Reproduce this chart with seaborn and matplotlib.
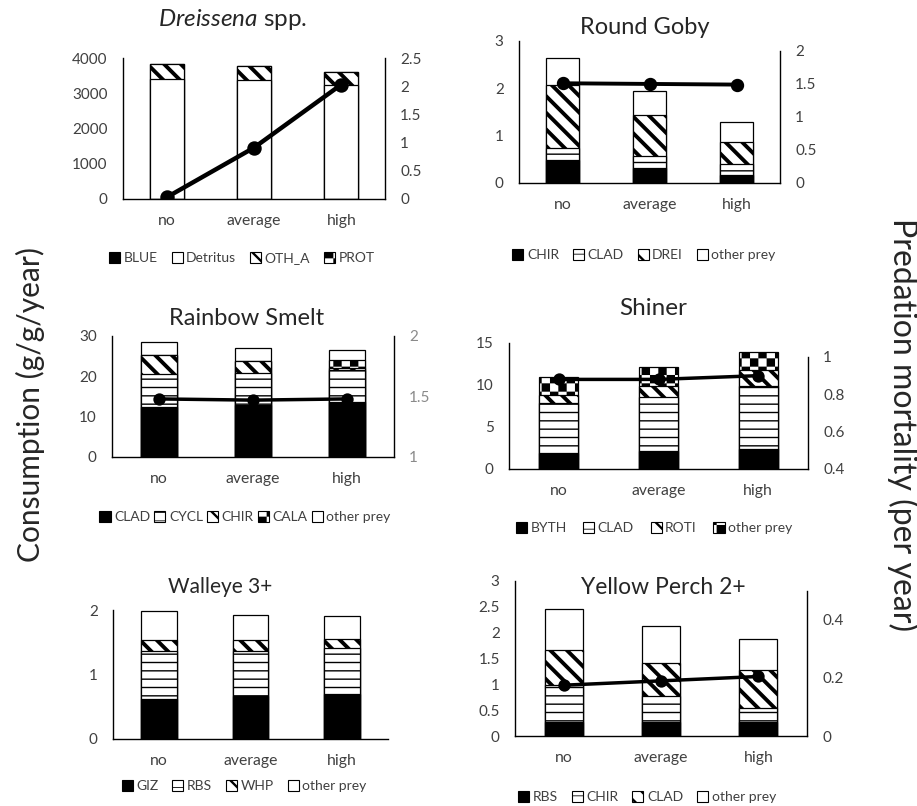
import numpy as np
import pandas as pd
import matplotlib
matplotlib.use('Agg')
import matplotlib.pyplot as plt
import seaborn as sns
from matplotlib import hatch as mhatch
from matplotlib.path import Path
from matplotlib.patches import Patch
from matplotlib.ticker import FuncFormatter

scenarios = ['no', 'average', 'high']

# Dreissena spp.
dre_prey = ['BLUE', 'Detritus', 'OTH_A', 'PROT']
dre_blue = [5, 5, 5]
dre_detritus = [3405, 3380, 3225]
dre_otha = [415, 385, 360]
dre_prot = [3, 3, 3]
dre_mort = [0.03, 0.91, 2.03]

# Round Goby
rg_prey = ['CHIR', 'CLAD', 'DREI', 'other prey']
rg_chir = [0.48, 0.32, 0.16]
rg_clad = [0.26, 0.24, 0.24]
rg_drei = [1.32, 0.87, 0.47]
rg_other = [0.59, 0.52, 0.42]
rg_mort = [1.51, 1.50, 1.49]

# Rainbow Smelt
rs_prey = ['CLAD', 'CYCL', 'CHIR', 'CALA', 'other prey']
rs_clad = [12.4, 12.8, 13.6]
rs_cycl = [8.1, 8.0, 8.0]
rs_chir = [4.7, 3.0, 0.4]
rs_cala = [0.0, 0.0, 2.0]
rs_other = [3.3, 3.3, 2.6]
rs_mort = [1.48, 1.47, 1.48]

# Shiner
sh_prey = ['BYTH', 'CLAD', 'ROTI', 'other prey']
sh_byth = [1.9, 2.1, 2.4]
sh_clad = [5.9, 6.5, 7.5]
sh_roti = [1.05, 1.3, 1.9]
sh_other = [2.15, 2.2, 2.1]
sh_mort = [0.88, 0.88, 0.90]

# Walleye 3+
wa_prey = ['GIZ', 'RBS', 'WHP', 'other prey']
wa_giz = [0.62, 0.66, 0.70]
wa_rbs = [0.74, 0.71, 0.71]
wa_whp = [0.18, 0.17, 0.14]
wa_other = [0.44, 0.39, 0.36]

# Yellow Perch 2+
yp_prey = ['RBS', 'CHIR', 'CLAD', 'other prey']
yp_rbs = [0.27, 0.27, 0.27]
yp_chir = [0.71, 0.50, 0.28]
yp_clad = [0.68, 0.65, 0.73]
yp_other = [0.80, 0.70, 0.60]
yp_mort = [0.175, 0.19, 0.205]


# matplotlib has no checkerboard hatch, so '*' is re-used for one
class CheckerHatch(mhatch.HatchPatternBase):
    filled = True

    def __init__(self, hatch, density):
        self.num_cells = int(hatch.count('*') * density)
        self.num_vertices = ((self.num_cells ** 2 + 1) // 2) * 5

    def set_vertices_and_codes(self, vertices, codes):
        n = self.num_cells
        s = 1.0 / n
        k = 0
        for i in range(n):
            for j in range(n):
                if (i + j) % 2 == 0:
                    x0, y0 = j * s, i * s
                    vertices[k:k + 5] = [(x0, y0), (x0 + s, y0), (x0 + s, y0 + s),
                                         (x0, y0 + s), (x0, y0)]
                    codes[k:k + 5] = [Path.MOVETO, Path.LINETO, Path.LINETO,
                                      Path.LINETO, Path.CLOSEPOLY]
                    k += 5


mhatch._hatch_types = [CheckerHatch if t is mhatch.Stars else t for t in mhatch._hatch_types]

sns.set_style('white')
plt.rcParams['font.family'] = ['Lato', 'DejaVu Sans']
plt.rcParams['mathtext.fontset'] = 'custom'
plt.rcParams['mathtext.it'] = 'Lato:italic'
plt.rcParams['mathtext.rm'] = 'Lato'
plt.rcParams['hatch.linewidth'] = 0.9

# face colour, hatch, hatch line width
STYLES = {
    'solid': ('black', None, 0.9),
    'white': ('white', None, 0.9),
    'diag': ('white', '\\\\', 2.8),
    'hline': ('white', '--', 1.0),
    'check': ('white', '**', 0.05),
}

TXT = '#404040'
W, H = 917, 806
fig = plt.figure(figsize=(W / 100, H / 100), dpi=100)


def px_rect(l, r, t, b):
    return [l / W, 1 - b / H, (r - l) / W, (b - t) / H]


def set_hlw(p, lw):
    if hasattr(p, 'set_hatch_linewidth'):
        p.set_hatch_linewidth(lw)


def fmt(v, pos):
    return f'{v:g}'


def panel(rect, title, tpos, tsize, layers, prey, styles, yticks, leg_pos, leg_sp,
          mort=None, rlim=None, rticks=None, rbounds=None, rcolor=TXT, lw=2.5, ms=7):
    ax = fig.add_axes(px_rect(*rect))
    tops = np.cumsum(np.array(layers, dtype=float), axis=0)
    for k in range(len(layers) - 1, -1, -1):
        face, hatch, hlw = STYLES[styles[k]]
        sns.barplot(x=scenarios, y=tops[k], ax=ax, color=face, hatch=hatch,
                    edgecolor='black', linewidth=0.9, width=0.39, saturation=1,
                    errorbar=None)
        for p in ax.containers[-1]:
            set_hlw(p, hlw)
    ax.set_xlim(-0.5, 2.5)
    ax.set_ylim(yticks[0], yticks[-1])
    ax.set_yticks(yticks)
    ax.yaxis.set_major_formatter(FuncFormatter(fmt))
    ax.tick_params(length=0, labelsize=11, colors=TXT)
    ax.tick_params(axis='y', pad=11)
    ax.tick_params(axis='x', pad=11, labelsize=11.3)
    ax.set_xlabel('')
    ax.set_ylabel('')
    for s in ['top', 'right']:
        ax.spines[s].set_visible(False)
    for s in ['left', 'bottom']:
        ax.spines[s].set_color('black')
        ax.spines[s].set_linewidth(1.0)

    if mort is not None:
        ax2 = ax.twinx()
        sns.pointplot(x=scenarios, y=mort, ax=ax2, color='black', errorbar=None,
                      markersize=ms, linewidth=lw)
        ax2.set_xlim(-0.5, 2.5)
        ax2.set_ylim(*rlim)
        ax2.set_yticks(rticks)
        ax2.yaxis.set_major_formatter(FuncFormatter(fmt))
        ax2.tick_params(length=0, labelsize=11, colors=rcolor, pad=11)
        ax2.set_ylabel('')
        for s in ['top', 'left', 'bottom']:
            ax2.spines[s].set_visible(False)
        ax2.spines['right'].set_color('black')
        ax2.spines['right'].set_linewidth(1.0)
        if rbounds is not None:
            ax2.spines['right'].set_bounds(*rbounds)

    fig.text(tpos[0] / W, 1 - tpos[1] / H, title, ha='center', va='center',
             fontsize=tsize, color='#262626')

    handles = []
    for name, st in zip(prey, styles):
        face, hatch, hlw = STYLES[st]
        handles.append(Patch(facecolor=face, edgecolor='black', hatch=hatch,
                             linewidth=0.8, label=name))
    leg = ax.legend(handles=handles, loc='center', ncol=len(prey),
                    bbox_to_anchor=(leg_pos[0] / W, 1 - leg_pos[1] / H),
                    bbox_transform=fig.transFigure, frameon=False, fontsize=10,
                    handlelength=0.8, handleheight=0.8, handletextpad=0.25,
                    columnspacing=leg_sp, labelcolor=TXT)
    for p, st in zip(leg.get_patches(), styles):
        set_hlw(p, STYLES[st][2] * 0.6)
    return ax


panel((123, 385, 58, 199), r'$\mathit{Dreissena}$ spp.', (233, 20), 17.5,
      [dre_blue, dre_detritus, dre_otha, dre_prot], dre_prey,
      ['solid', 'white', 'diag', 'check'], [0, 1000, 2000, 3000, 4000],
      (242, 258), 1.0, mort=dre_mort, rlim=(0, 2.5),
      rticks=[0, 0.5, 1, 1.5, 2, 2.5], lw=3.2, ms=8)

panel((519, 780, 41, 183), 'Round Goby', (645, 27), 17,
      [rg_chir, rg_clad, rg_drei, rg_other], rg_prey,
      ['solid', 'hline', 'diag', 'white'], [0, 1, 2, 3],
      (644, 255), 1.0, mort=rg_mort, rlim=(0, 2.15),
      rticks=[0, 0.5, 1, 1.5, 2], rbounds=(0, 2), lw=2.8, ms=7.5)

panel((112, 394, 336, 457), 'Rainbow Smelt', (247, 318), 17,
      [rs_clad, rs_cycl, rs_chir, rs_cala, rs_other], rs_prey,
      ['solid', 'hline', 'diag', 'check', 'white'], [0, 10, 20, 30],
      (245, 517), 0.3, mort=rs_mort, rlim=(1, 2),
      rticks=[1, 1.5, 2], rcolor='#8a8a8a')

panel((509, 808, 343, 469), 'Shiner', (653, 308), 17.5,
      [sh_byth, sh_clad, sh_roti, sh_other], sh_prey,
      ['solid', 'hline', 'diag', 'check'], [0, 5, 10, 15],
      (654, 528), 1.2, mort=sh_mort, rlim=(0.4, 1.075),
      rticks=[0.4, 0.6, 0.8, 1], rbounds=(0.4, 1))

panel((113, 388, 610, 739), 'Walleye 3+', (220, 587), 15,
      [wa_giz, wa_rbs, wa_whp, wa_other], wa_prey,
      ['solid', 'hline', 'diag', 'white'], [0, 1, 2],
      (244, 786), 1.0)

panel((515, 807, 581, 736), 'Yellow Perch 2+', (663, 587), 16.5,
      [yp_rbs, yp_chir, yp_clad, yp_other], yp_prey,
      ['solid', 'hline', 'diag', 'white'], [0, 0.5, 1, 1.5, 2, 2.5, 3],
      (647, 797), 1.0, mort=yp_mort, rlim=(0, 0.534),
      rticks=[0, 0.2, 0.4], rbounds=(0, 0.5))

fig.text(30 / W, 1 - 405 / H, 'Consumption (g/g/year)', rotation=90,
         ha='center', va='center', fontsize=21.5, color='#262626')
fig.text(903 / W, 1 - 425 / H, 'Predation mortality (per year)', rotation=270,
         ha='center', va='center', fontsize=23, color='#262626')

fig.savefig('out.png', dpi=100)
